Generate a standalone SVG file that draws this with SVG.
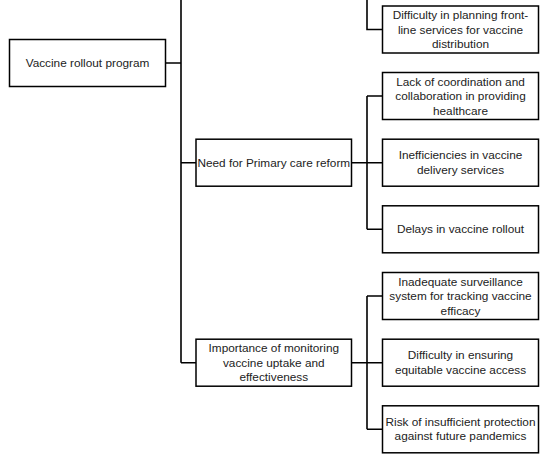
<svg xmlns="http://www.w3.org/2000/svg" width="546" height="459" viewBox="0 0 546 459">
<style>
.box{fill:#fff;stroke:#000;stroke-width:1.5}
.t{font-family:"Liberation Sans",Arial,sans-serif;font-size:11.8px;fill:#222;text-anchor:middle}
.c{fill:none;stroke:#000;stroke-width:1.6}
</style>
<rect width="546" height="459" fill="#fff"/>
<g id="connectors">
<path class="c" d="M165.5 63 H181 M181 0 V362.7 M181 162.7 H196 M181 362.7 H196"/>
<path class="c" d="M367 0 V29.5 H382.5"/>
<path class="c" d="M351.5 162.7 H382.5 M367 96 V229.3 M367 96 H382.5 M367 229.3 H382.5"/>
<path class="c" d="M351.5 362.7 H382.5 M367 296 V429.3 M367 296 H382.5 M367 429.3 H382.5"/>
</g>
<g id="root"><rect class="box" x="9.5" y="39.5" width="156" height="47"/><text class="t" x="87.5" y="67">Vaccine rollout program</text></g>
<g id="need"><rect class="box" x="196" y="139.2" width="155.5" height="47"/><text class="t" x="273.8" y="166.7">Need for Primary care reform</text></g>
<g id="importance"><rect class="box" x="196" y="339.2" width="155.5" height="47"/><text class="t" x="273.8" y="352.2">Importance of monitoring</text><text class="t" x="273.8" y="366.7">vaccine uptake and</text><text class="t" x="273.8" y="381.2">effectiveness</text></g>
<g id="planning"><rect class="box" x="382.5" y="6" width="156" height="47"/><text class="t" x="460.5" y="19">Difficulty in planning front-</text><text class="t" x="460.5" y="33.5">line services for vaccine</text><text class="t" x="460.5" y="48">distribution</text></g>
<g id="lack"><rect class="box" x="382.5" y="72.5" width="156" height="47"/><text class="t" x="460.5" y="85.5">Lack of coordination and</text><text class="t" x="460.5" y="100">collaboration in providing</text><text class="t" x="460.5" y="114.5">healthcare</text></g>
<g id="ineff"><rect class="box" x="382.5" y="139.2" width="156" height="47"/><text class="t" x="460.5" y="159.2">Inefficiencies in vaccine</text><text class="t" x="460.5" y="173.7">delivery services</text></g>
<g id="delays"><rect class="box" x="382.5" y="205.8" width="156" height="47"/><text class="t" x="460.5" y="233.3">Delays in vaccine rollout</text></g>
<g id="inadequate"><rect class="box" x="382.5" y="272.5" width="156" height="47"/><text class="t" x="460.5" y="285.5">Inadequate surveillance</text><text class="t" x="460.5" y="300">system for tracking vaccine</text><text class="t" x="460.5" y="314.5">efficacy</text></g>
<g id="equitable"><rect class="box" x="382.5" y="339.2" width="156" height="47"/><text class="t" x="460.5" y="359.2">Difficulty in ensuring</text><text class="t" x="460.5" y="373.7">equitable vaccine access</text></g>
<g id="risk"><rect class="box" x="382.5" y="405.8" width="156" height="47"/><text class="t" x="460.5" y="425.8">Risk of insufficient protection</text><text class="t" x="460.5" y="440.3">against future pandemics</text></g>
</svg>
